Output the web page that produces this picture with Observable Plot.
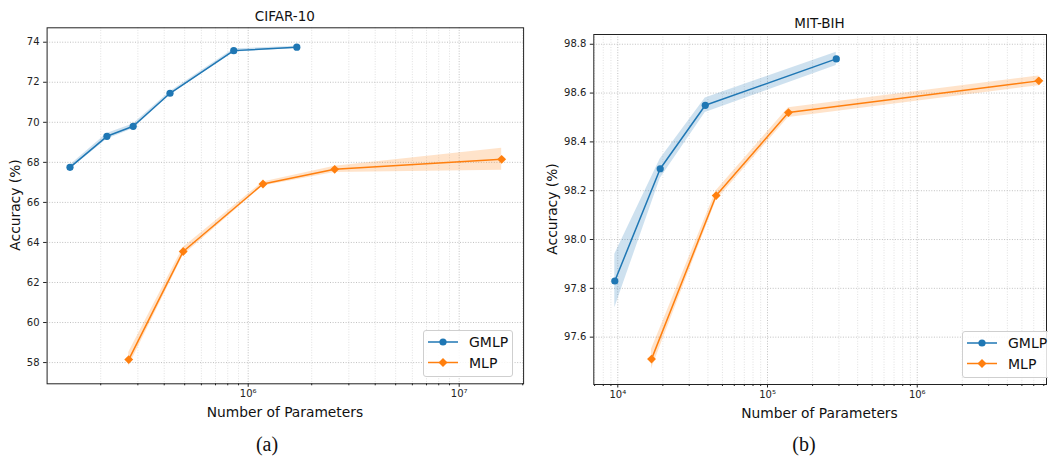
<!DOCTYPE html>
<html><head><meta charset="utf-8">
<script src="https://cdn.jsdelivr.net/npm/d3@7"></script>
<script src="https://cdn.jsdelivr.net/npm/@observablehq/plot@0.6"></script>
<style>
html,body{margin:0;padding:0;background:#fff;overflow:hidden;}
#root{position:relative;width:1048px;height:457px;overflow:hidden;font-family:"DejaVu Sans",sans-serif;color:#111;}
.abs{position:absolute;white-space:nowrap;}
.c{transform:translate(-50%,-50%);}
.rot{transform:translate(-50%,-50%) rotate(-90deg);}
.cap{font-family:"Liberation Serif","Times New Roman",serif;font-size:20px;line-height:22px;}
</style></head>
<body><div id="root"></div>
<script>
// ---- Data: CIFAR-10 ----
const cifarGmlpParams = [143000, 214000, 285000, 426000, 854000, 1700000];
const cifarGmlpAcc    = [67.75, 69.30, 69.80, 71.45, 73.58, 73.75];
const cifarGmlpStd    = [0.10, 0.14, 0.12, 0.08, 0.08, 0.05];
const cifarMlpParams  = [271500, 492000, 1175000, 2570000, 15900000];
const cifarMlpAcc     = [58.15, 63.55, 66.92, 67.65, 68.15];
const cifarMlpStd     = [0.35, 0.20, 0.10, 0.16, 0.55];
const cifarYTicks = [58, 60, 62, 64, 66, 68, 70, 72, 74];
// ---- Data: MIT-BIH ----
const mitGmlpParams = [9550, 19200, 38400, 288000];
const mitGmlpAcc    = [97.83, 98.29, 98.55, 98.74];
const mitGmlpStd    = [0.11, 0.04, 0.03, 0.027];
const mitMlpParams  = [16800, 45400, 138000, 6490000];
const mitMlpAcc     = [97.51, 98.18, 98.52, 98.65];
const mitMlpStd     = [0.04, 0.02, 0.02, 0.02];
const mitYTicks = [97.6, 97.8, 98.0, 98.2, 98.4, 98.6, 98.8];
const seriesNames = ["GMLP", "MLP"];
const colors = {GMLP: "#1f77b4", MLP: "#ff7f0e"};

const sup = {"0":"⁰","1":"¹","2":"²","3":"³","4":"⁴","5":"⁵","6":"⁶","7":"⁷","8":"⁸","9":"⁹"};
function rows(params, acc, std, name) {
  return params.map((p, i) => ({x: p, y: acc[i], lo: acc[i] - std[i], hi: acc[i] + std[i], s: name}));
}
function logTicks(lo, hi) {
  const major = [], minor = [];
  for (let e = Math.floor(Math.log10(lo)); e <= Math.ceil(Math.log10(hi)); e++) {
    for (let m = 1; m < 10; m++) {
      const v = m * Math.pow(10, e);
      if (v < lo || v > hi) continue;
      (m === 1 ? major : minor).push(v);
    }
  }
  return {major, minor};
}
function chart(o) {
  const {major, minor} = logTicks(o.xDomain[0], o.xDomain[1]);
  const g = rows(o.gP, o.gA, o.gS, "GMLP"), m = rows(o.mP, o.mA, o.mS, "MLP");
  const dash = {strokeDasharray: "1,1.6", strokeOpacity: 1};
  return Plot.plot({
    width: o.width, height: o.height,
    marginLeft: o.ml, marginRight: o.mr, marginTop: o.mt, marginBottom: o.mb,
    style: {fontFamily: "DejaVu Sans, sans-serif", fontSize: "10px", color: "#222", background: "transparent", overflow: "visible"},
    x: {type: "log", domain: o.xDomain},
    y: {domain: o.yDomain},
    marks: [
      Plot.gridX(minor, {stroke: "#d9d9d9", strokeWidth: 0.8, ...dash}),
      Plot.gridX(major, {stroke: "#b0b0b0", strokeWidth: 0.8, ...dash}),
      Plot.gridY(o.yTicks, {stroke: "#b0b0b0", strokeWidth: 0.8, ...dash}),
      Plot.areaY(g, {x: "x", y1: "lo", y2: "hi", fill: colors.GMLP, fillOpacity: 0.22}),
      Plot.areaY(m, {x: "x", y1: "lo", y2: "hi", fill: colors.MLP, fillOpacity: 0.22}),
      Plot.line(g, {x: "x", y: "y", stroke: colors.GMLP, strokeWidth: 1.5}),
      Plot.line(m, {x: "x", y: "y", stroke: colors.MLP, strokeWidth: 1.5}),
      Plot.dot(g, {x: "x", y: "y", fill: colors.GMLP, r: 3.6, symbol: "circle"}),
      Plot.dot(m, {x: "x", y: "y", fill: colors.MLP, r: 4.0, symbol: "diamond2"}),
      Plot.frame({stroke: "#222", strokeWidth: 1}),
      Plot.axisY(o.yTicks, {tickSize: 3.5, tickPadding: 4, label: null, tickFormat: o.yFmt}),
      Plot.axisX(major, {tickSize: 3.5, tickPadding: 3, label: null,
        tickFormat: d => "10" + String(Math.round(Math.log10(d))).split("").map(c => sup[c]).join("")}),
      Plot.axisX(minor, {tickSize: 2, label: null, tickFormat: () => ""})
    ]
  });
}
function place(el, left, top) {
  const w = document.createElement("div");
  w.className = "abs"; w.style.left = left + "px"; w.style.top = top + "px";
  w.appendChild(el); root.appendChild(w);
}
function text(str, x, y, cls, size) {
  const d = document.createElement("div");
  d.className = "abs " + cls; d.textContent = str;
  d.style.left = x + "px"; d.style.top = y + "px";
  if (size) d.style.fontSize = size + "px";
  root.appendChild(d);
}
function legend(x, y) {
  const ns = "http://www.w3.org/2000/svg";
  const svg = document.createElementNS(ns, "svg");
  svg.setAttribute("width", 92); svg.setAttribute("height", 48);
  svg.style.position = "absolute"; svg.style.left = x + "px"; svg.style.top = y + "px";
  let h = `<rect x="0.5" y="0.5" width="89" height="46" rx="2.5" fill="#fff" fill-opacity="0.85" stroke="#cfcfcf"/>`;
  seriesNames.forEach((n, i) => {
    const cy = 12 + i * 20.5, c = colors[n];
    h += `<line x1="5" x2="35" y1="${cy}" y2="${cy}" stroke="${c}" stroke-width="1.5"/>`;
    h += n === "GMLP" ? `<circle cx="20" cy="${cy}" r="3.6" fill="${c}"/>`
                      : `<path d="M20,${cy-4.5}L24.5,${cy}L20,${cy+4.5}L15.5,${cy}Z" fill="${c}"/>`;
    h += `<text x="46" y="${cy}" dy="0.36em" font-family="DejaVu Sans" font-size="14" fill="#111">${n}</text>`;
  });
  svg.innerHTML = h; root.appendChild(svg);
}
const root = document.getElementById("root");

place(chart({width: 530, height: 430, ml: 46.6, mr: 6.9, mt: 27.3, mb: 46.7,
  xDomain: [111400, 20200000], yDomain: [56.94, 74.72], yTicks: cifarYTicks, yFmt: d3.format("d"),
  gP: cifarGmlpParams, gA: cifarGmlpAcc, gS: cifarGmlpStd, mP: cifarMlpParams, mA: cifarMlpAcc, mS: cifarMlpStd}), 0, 0);
place(chart({width: 518, height: 430, ml: 63.3, mr: 2, mt: 34, mb: 46,
  xDomain: [6915, 7300000], yDomain: [97.406, 98.84], yTicks: mitYTicks, yFmt: d3.format(".1f"),
  gP: mitGmlpParams, gA: mitGmlpAcc, gS: mitGmlpStd, mP: mitMlpParams, mA: mitMlpAcc, mS: mitMlpStd}), 530, 0);

text("CIFAR-10", 284.9, 16, "c", 13.5);
text("MIT-BIH", 819.5, 23, "c", 13.5);
text("Number of Parameters", 284.9, 412, "c", 13.8);
text("Number of Parameters", 819.5, 413, "c", 13.8);
text("Accuracy (%)", 15, 205, "rot", 13.8);
text("Accuracy (%)", 552, 209, "rot", 13.8);
text("(a)", 267, 444, "c cap");
text("(b)", 804, 444, "c cap");
legend(423, 330);
legend(962, 331);
</script></body></html>
